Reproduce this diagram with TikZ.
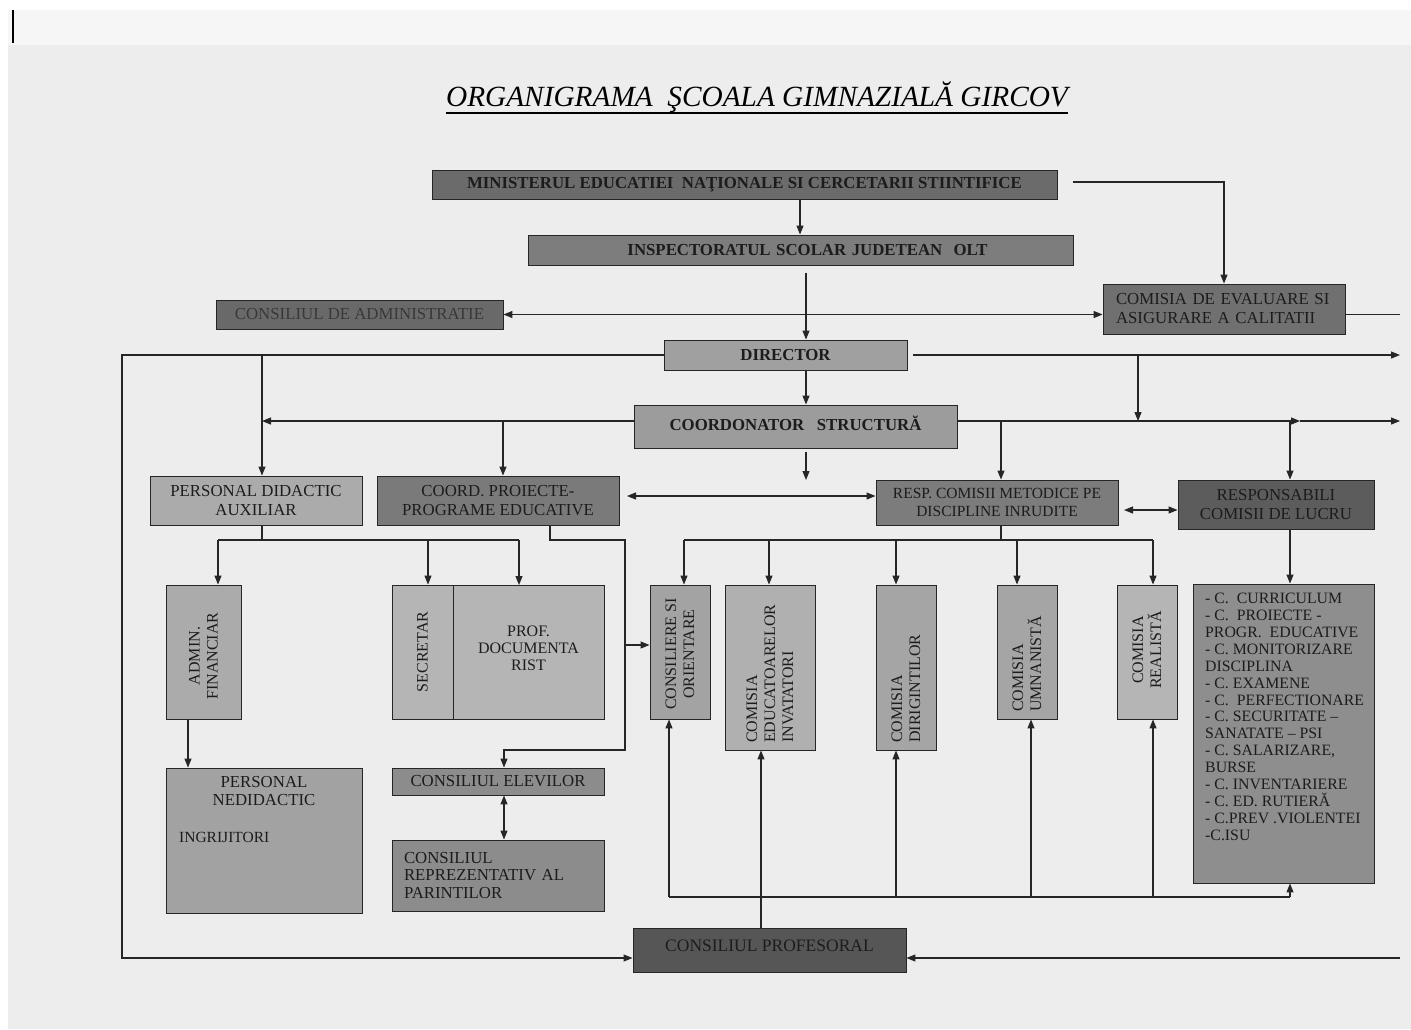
\documentclass[tikz,border=0pt]{standalone}
\usepackage{fontspec}
\setmainfont{Liberation Serif}
\usetikzlibrary{arrows.meta,calc}
\definecolor{bg}{HTML}{EDEDED}
\definecolor{bgtop}{HTML}{F6F6F6}
\definecolor{cMIN}{HTML}{6B6B6B}
\definecolor{cINSP}{HTML}{7D7D7D}
\definecolor{cCADM}{HTML}{696969}
\definecolor{cCEVAL}{HTML}{707070}
\definecolor{cDIR}{HTML}{A0A0A0}
\definecolor{cCOORD}{HTML}{9C9C9C}
\definecolor{cPDA}{HTML}{ABABAB}
\definecolor{cCPP}{HTML}{7A7A7A}
\definecolor{cRESP}{HTML}{7C7C7C}
\definecolor{cRCL}{HTML}{5C5C5C}
\definecolor{cADM}{HTML}{ABABAB}
\definecolor{cSEC}{HTML}{B5B5B5}
\definecolor{cPN}{HTML}{A2A2A2}
\definecolor{cCEL}{HTML}{8C8C8C}
\definecolor{cCSO}{HTML}{A3A3A3}
\definecolor{cCEI}{HTML}{B0B0B0}
\definecolor{cCDIR}{HTML}{A5A5A5}
\definecolor{cREAL}{HTML}{B5B5B5}
\definecolor{cLIST}{HTML}{8E8E8E}
\definecolor{cPROF}{HTML}{565656}
\definecolor{ink}{HTML}{1C1C1C}
\definecolor{inkg}{HTML}{383838}
\newcommand\bxf{\fontsize{16.8}{19}\selectfont}
\newcommand\bxb{\fontsize{16.8}{19}\selectfont\bfseries}
\newcommand\rtf{\fontsize{16}{18}\selectfont}
\newcommand\lstf{\fontsize{15.8}{16.9}\selectfont}
\tikzset{
  box/.style={draw=black!85, line width=0.9pt, inner sep=2pt, text=ink, align=center, font=\bxf},
  rtxt/.style={rotate=90, align=center, text=ink, font=\rtf, inner sep=0pt},
  wire/.style={draw=black!85, line width=1.1pt},
  arr/.style={wire, -{Triangle[length=9pt,width=7pt]}},
  arrb/.style={wire, {Triangle[length=9pt,width=7pt]}-{Triangle[length=9pt,width=7pt]}},
}
\begin{document}
\begin{tikzpicture}[x=1pt,y=-1pt]
\useasboundingbox (0,0) rectangle (1411,1029);
\fill[white] (0,0) rectangle (1411,1029);
\fill[bg] (8,10) rectangle (1411,1029);
\fill[bgtop] (8,10) rectangle (1411,45);
\draw[black, line width=2.5pt] (13,10) -- (13,43);

% title
\node[inner sep=0pt, anchor=base, font=\fontsize{29.3}{31}\selectfont\itshape, text=black] (title) at (757,106) {ORGANIGRAMA\ \ ŞCOALA GIMNAZIALĂ GIRCOV};
\draw[black, line width=1.2pt] ([yshift=-7pt]title.base west) -- ([yshift=-7pt]title.base east);

% top boxes
\node[box, fill=cMIN, minimum width=625pt, minimum height=29pt, font=\bxb] (MIN) at (744.5,184.5) {MINISTERUL EDUCATIEI\ \ NAŢIONALE SI CERCETARII STIINTIFICE};
\node[box, fill=cINSP, minimum width=545pt, minimum height=30pt, font=\bxb, text width=529pt, align=center] (INSP) at (800.5,250) {\hspace*{14pt}INSPECTORATUL SCOLAR JUDETEAN\ \ OLT};
\node[box, fill=cCADM, minimum width=287pt, minimum height=29pt, text=inkg] (CADM) at (359.5,314.5) {CONSILIUL DE ADMINISTRATIE};
\node[box, fill=cCEVAL, minimum width=242pt, minimum height=50pt, text width=216pt, align=left] (CEVAL) at (1224,309) {COMISIA DE EVALUARE SI\\ASIGURARE A CALITATII};
\node[box, fill=cDIR, minimum width=243pt, minimum height=30pt, font=\bxb] (DIR) at (785.5,355) {DIRECTOR};
\node[box, fill=cCOORD, minimum width=323pt, minimum height=43pt, font=\bxb, text depth=6pt] (COORD) at (795.5,426.5) {COORDONATOR\ \ \ STRUCTURĂ};

% second level
\node[box, fill=cPDA, minimum width=212pt, minimum height=49pt] (PDA) at (256,500.5) {PERSONAL DIDACTIC\\AUXILIAR};
\node[box, fill=cCPP, minimum width=242pt, minimum height=49pt] (CPP) at (498,500.5) {COORD. PROIECTE-\\PROGRAME EDUCATIVE};
\node[box, fill=cRESP, minimum width=242pt, minimum height=45pt, font=\fontsize{15.5}{17.5}\selectfont] (RESP) at (997,502.5) {RESP. COMISII METODICE PE\\DISCIPLINE INRUDITE};
\node[box, fill=cRCL, minimum width=196pt, minimum height=49pt] (RCL) at (1276,504.5) {RESPONSABILI\\COMISII DE LUCRU};

% third level, left
\node[box, fill=cADM, minimum width=75pt, minimum height=134pt] (ADM) at (203.5,652) {};
\node[rtxt] (ADMt) at (203.5,656) {ADMIN.\\FINANCIAR};
\node[box, fill=cSEC, minimum width=61pt, minimum height=134pt] (SEC) at (422.5,652) {};
\node[rtxt] (SECt) at (422.5,652) {SECRETAR};
\node[box, fill=cSEC, minimum width=151pt, minimum height=134pt, anchor=north] (PROF) at (528.5,585) {};
\node[align=center, text=ink, font=\fontsize{16}{17}\selectfont, anchor=north, inner sep=0pt] (PROFt) at (528.5,626) {PROF.\\DOCUMENTA\\RIST};

\node[box, fill=cPN, minimum width=196pt, minimum height=145pt] (PN) at (264,840.5) {};
\node[align=center, text=ink, font=\fontsize{16.8}{18}\selectfont, anchor=north, inner sep=0pt] (PNt) at (264,776) {PERSONAL\\NEDIDACTIC};
\node[text=ink, font=\fontsize{15.5}{16}\selectfont, anchor=west, inner sep=0pt] (PNi) at (179,837) {INGRIJITORI};

\node[box, fill=cCEL, minimum width=212pt, minimum height=27pt] (CEL) at (498,781.5) {CONSILIUL ELEVILOR};
\node[box, fill=cCEL, minimum width=212pt, minimum height=71pt, text width=188pt, align=left, font=\fontsize{16.8}{17.5}\selectfont] (CRP) at (498,875.5) {CONSILIUL\\REPREZENTATIV AL\\PARINTILOR};

% third level, commissions
\node[box, fill=cCSO, minimum width=60pt, minimum height=134pt] (CSO) at (680,652) {};
\node[rtxt] (CSOt) at (680,654) {CONSILIERE SI\\ORIENTARE};
\node[box, fill=cCEI, minimum width=90pt, minimum height=165pt] (CEI) at (770,667.5) {};
\node[rtxt, align=left, anchor=west] (CEIt) at (770,743) {COMISIA\\EDUCATOARELOR\\INVATATORI};
\node[box, fill=cCDIR, minimum width=60pt, minimum height=165pt] (CDIR) at (906,667.5) {};
\node[rtxt, align=left, anchor=west] (CDIRt) at (906,743) {COMISIA\\DIRIGINTILOR};
\node[box, fill=cCDIR, minimum width=60pt, minimum height=134pt] (CUM) at (1027,652) {};
\node[rtxt, align=left, anchor=west] (CUMt) at (1027,712) {COMISIA\\UMNANISTĂ};
\node[box, fill=cREAL, minimum width=60pt, minimum height=134pt] (CREAL) at (1147,652) {};
\node[rtxt] (CREALt) at (1147,650) {COMISIA\\REALISTĂ};

\node[box, fill=cLIST, minimum width=181pt, minimum height=299pt] (CLIST) at (1283.5,733.5) {};
\node[anchor=north west, align=left, text=ink, font=\lstf, inner sep=0pt] (CLISTt) at (1205,593) {- C.\ \ CURRICULUM\\- C.\ \ PROIECTE -\\PROGR.\ \ EDUCATIVE\\- C. MONITORIZARE\\DISCIPLINA\\- C. EXAMENE\\- C.\ \ PERFECTIONARE\\- C. SECURITATE –\\SANATATE – PSI\\- C. SALARIZARE,\\BURSE\\- C. INVENTARIERE\\- C. ED. RUTIERĂ\\- C.PREV .VIOLENTEI\\-C.ISU};

\node[box, fill=cPROF, minimum width=273pt, minimum height=44pt, font=\fontsize{17.5}{19}\selectfont, text depth=8pt] (CPROF) at (769.5,950) {CONSILIUL PROFESORAL};

% ---------- connectors ----------
\coordinate (m1) at (1073,182);
\coordinate (i1) at (806,273);
\coordinate (eR) at (1400,314.5);
\coordinate (dL) at (122,355);
\coordinate (dLb) at (122,958);
\coordinate (dR0) at (913,355);
\coordinate (dR) at (1400,355);
\coordinate (dD) at (1138,355);
\coordinate (cR0) at (957,421);
\coordinate (cRm) at (1300,421);
\coordinate (cR) at (1400,421);
\coordinate (cB0) at (806,452);
\coordinate (cB) at (806,480);
\coordinate (pp) at (627,496);
\coordinate (rr) at (1124,510);
\coordinate (busA) at (0,540);
\coordinate (cpp1) at (625,540);
\coordinate (cpp2) at (625,750);
\coordinate (cpp3) at (625,645);
\coordinate (busB) at (0,897);
\coordinate (pR) at (1400,958);

% ministry
\draw[arr] ([xshift=55.5pt]MIN.south) -- ([xshift=55.5pt]MIN.south |- INSP.north);
\draw[arr] (m1) -| (CEVAL.north);
\draw[arr] (i1) -- (i1 |- DIR.north);
\draw[arrb] (CADM.east) -- (CEVAL.west |- CADM.east);
\draw[wire] (CEVAL.east |- eR) -- (eR);

% director
\draw[arr] (DIR.west) -- (dL) -- (dLb) -- ([yshift=-8pt]CPROF.west);
\draw[arr] ([xshift=6pt]PDA.north |- dL) -- ([xshift=6pt]PDA.north);
\draw[arr] (dR0) -- (dR);
\draw[arr] (dD) -- (dD |- cR0);
\draw[arr] ([xshift=20.5pt]DIR.south) -- ([xshift=20.5pt]DIR.south |- COORD.north);

% coordonator
\draw[arr] (COORD.west |- cR0) -- ([xshift=6pt]PDA.north |- cR0);
\draw[arr] ([xshift=5pt]CPP.north |- cR0) -- ([xshift=5pt]CPP.north);
\draw[arr] (cR0) -- (cRm);
\draw[arr] (cRm) -- (cR);
\draw[arr] ([xshift=4pt]RESP.north |- cR0) -- ([xshift=4pt]RESP.north);
\draw[arr] ([xshift=14pt]RCL.north |- cR0) -- ([xshift=14pt]RCL.north);
\draw[arr] (cB0) -- (cB);
\draw[arrb] (pp) -- (RESP.west |- pp);
\draw[arrb] (rr) -- (RCL.west |- rr);

% personal didactic auxiliar
\draw[wire] ([xshift=6pt]PDA.south) -- ([xshift=6pt]PDA.south |- busA);
\draw[wire] ([xshift=14.5pt]ADM.north |- busA) -- ([xshift=-9.5pt]PROF.north |- busA);
\draw[arr] ([xshift=14.5pt]ADM.north |- busA) -- ([xshift=14.5pt]ADM.north);
\draw[arr] ([xshift=5.5pt]SEC.north |- busA) -- ([xshift=5.5pt]SEC.north);
\draw[arr] ([xshift=-9.5pt]PROF.north |- busA) -- ([xshift=-9.5pt]PROF.north);
\draw[arr] ([xshift=-15.5pt]ADM.south) -- ([xshift=-15.5pt]ADM.south |- PN.north);

% coord proiecte
\draw[arr] ([xshift=52pt]CPP.south) -- ([xshift=52pt]CPP.south |- busA) -- (cpp1) -- (cpp2) -- ([xshift=6pt]CEL.north |- cpp2) -- ([xshift=6pt]CEL.north);
\draw[arr] (cpp3) -- (CSO.west |- cpp3);
\draw[arrb] ([xshift=6pt]CEL.south) -- ([xshift=6pt]CRP.north);

% resp comisii metodice
\draw[wire] ([xshift=4pt]RESP.south) -- ([xshift=4pt]RESP.south |- busA);
\draw[wire] ([xshift=4pt]CSO.north |- busA) -- ([xshift=6pt]CREAL.north |- busA);
\draw[arr] ([xshift=4pt]CSO.north |- busA) -- ([xshift=4pt]CSO.north);
\draw[arr] ([xshift=-1pt]CEI.north |- busA) -- ([xshift=-1pt]CEI.north);
\draw[arr] ([xshift=-10pt]CDIR.north |- busA) -- ([xshift=-10pt]CDIR.north);
\draw[arr] ([xshift=-10pt]CUM.north |- busA) -- ([xshift=-10pt]CUM.north);
\draw[arr] ([xshift=6pt]CREAL.north |- busA) -- ([xshift=6pt]CREAL.north);
\draw[arr] ([xshift=14pt]RCL.south) -- ([xshift=14pt]RCL.south |- CLIST.north);

% consiliul profesoral
\draw[arr] ([xshift=-8.5pt]CPROF.north) -- ([xshift=-8.5pt]CPROF.north |- CEI.south);
\draw[wire] ([xshift=-11pt]CSO.south |- busB) -- ([xshift=6.5pt]CLIST.south |- busB);
\draw[arr] ([xshift=-11pt]CSO.south |- busB) -- ([xshift=-11pt]CSO.south);
\draw[arr] ([xshift=-10pt]CDIR.south |- busB) -- ([xshift=-10pt]CDIR.south);
\draw[arr] ([xshift=4pt]CUM.south |- busB) -- ([xshift=4pt]CUM.south);
\draw[arr] ([xshift=6pt]CREAL.south |- busB) -- ([xshift=6pt]CREAL.south);
\draw[arr] ([xshift=6.5pt]CLIST.south |- busB) -- ([xshift=6.5pt]CLIST.south);
\draw[arr] (pR) -- ([yshift=-8pt]CPROF.east);
\end{tikzpicture}
\end{document}
